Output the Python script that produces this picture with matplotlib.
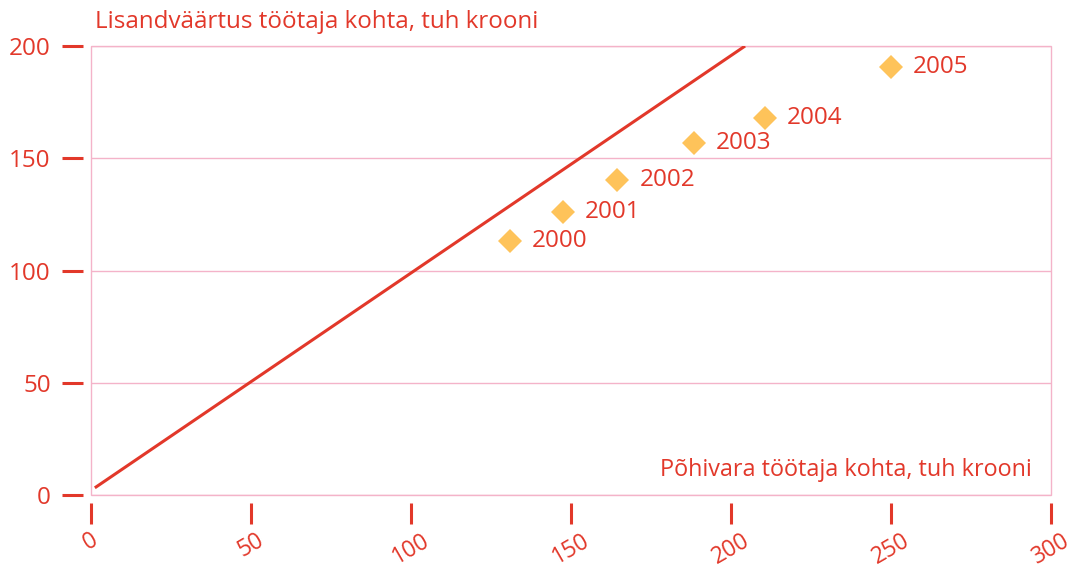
import matplotlib
matplotlib.use("Agg")
import matplotlib.pyplot as plt
from matplotlib.patches import Rectangle

years = ["2000", "2001", "2002", "2003", "2004", "2005"]
fixed_assets = [130.9, 147.5, 164.4, 188.4, 210.6, 250.0]
value_added = [113.1, 126.0, 140.3, 156.8, 167.9, 190.6]
line_x = [1.2, 204.4]
line_y = [3.2, 200.0]
x_ticks = [0, 50, 100, 150, 200, 250, 300]
y_ticks = [0, 50, 100, 150, 200]

RED = "#E2382A"
GOLD = "#FEC35A"
PINK = "#F4B3C9"

plt.rcParams['font.family'] = ['Open Sans', 'DejaVu Sans']

fig = plt.figure(figsize=(10.78, 5.7), dpi=100)
ax = fig.add_axes([91/1078, 75/570, 960/1078, 449/570])
ax.set_xlim(0, 300)
ax.set_ylim(0, 200)

ax.plot(line_x, line_y, color=RED, lw=2.2, solid_capstyle='butt', zorder=3)
ax.plot(fixed_assets, value_added, linestyle='none', marker='D', markersize=12.5,
        color=GOLD, markeredgewidth=0, zorder=4)
for x, y, t in zip(fixed_assets, value_added, years):
    ax.annotate(t, (x, y), xytext=(16, 0), textcoords='offset points',
                va='center', ha='left', color=RED, fontsize=17.5)

for s in ax.spines.values():
    s.set_visible(False)
ax.spines['left'].set_position(('outward', 6))
ax.spines['bottom'].set_position(('outward', 6))
ax.add_patch(Rectangle((0, 0), 1, 1, transform=ax.transAxes, fill=False,
                       ec=PINK, lw=1, clip_on=False, zorder=1))

ax.set_yticks(y_ticks)
ax.set_xticks(x_ticks)
ax.set_yticklabels([str(v) for v in y_ticks])
ax.set_xticklabels([str(v) for v in x_ticks], rotation=30, ha='center', va='top')
ax.tick_params(axis='both', colors=RED, length=15, width=2.2, labelsize=17.5)
ax.tick_params(axis='y', pad=8)
ax.tick_params(axis='x', pad=3, labelsize=16.5)

ax.grid(axis='y', color=PINK, lw=1)
ax.grid(axis='x', visible=False)
ax.set_axisbelow(True)

fig.text(95/1078, 1 - 22/570, "Lisandväärtus töötaja kohta, tuh krooni",
         color=RED, fontsize=17.4, ha='left', va='center')
ax.text(0.98, 0.055, "Põhivara töötaja kohta, tuh krooni", transform=ax.transAxes,
        color=RED, fontsize=16.8, ha='right', va='center')

fig.savefig("out.png", dpi=100)
